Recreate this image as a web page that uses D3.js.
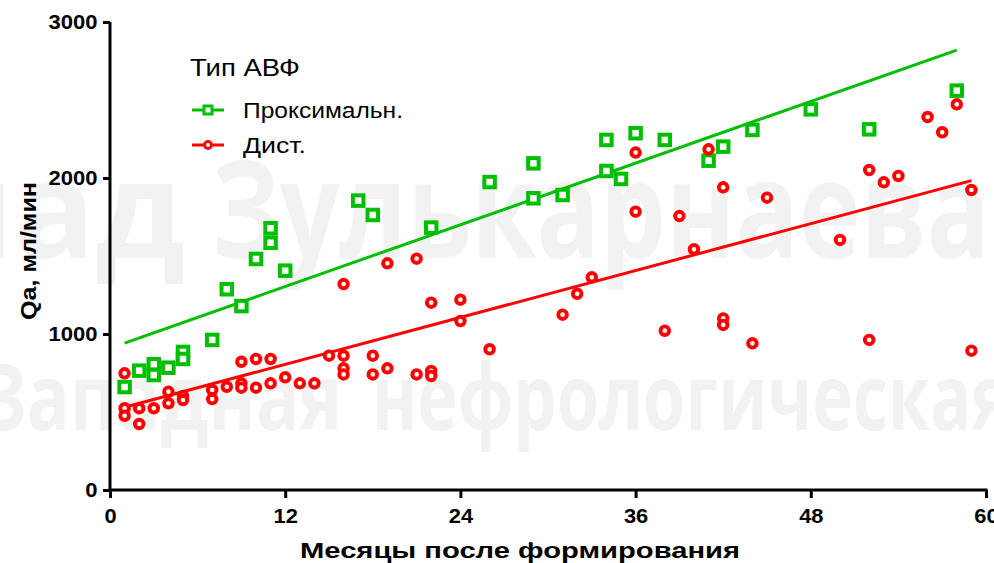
<!DOCTYPE html>
<html><head><meta charset="utf-8">
<script src="https://cdn.jsdelivr.net/npm/d3@7/dist/d3.min.js"></script>
<style>body{margin:0;background:#fff}svg{display:block}</style>
</head><body>
<svg id="c" width="994" height="563"></svg>
<script>
// ---- data ----
const xTicks = [0, 12, 24, 36, 48, 60];
const yTicks = [0, 1000, 2000, 3000];
const proxMonths = [1,2,3,3,4,5,5,7,8,9,10,11,11,12,17,18,22,26,29,29,31,34,34,35,36,38,41,42,44,48,52,58];
const proxQa     = [660,765,806,737,784,885,840,962,1287,1179,1481,1678,1585,1406,1855,1763,1682,1974,2094,1870,1891,2244,2045,1994,2287,2244,2111,2201,2308,2440,2312,2560];
const distMonths = [1,1,1,2,2,3,4,4,5,5,7,7,8,9,9,9,10,10,11,11,12,13,14,15,16,16,16,16,18,18,19,19,21,21,22,22,22,24,24,26,31,32,33,36,36,38,39,40,41,42,42,42,44,45,50,52,52,53,54,56,57,58,59,59];
const distQa     = [748,524,476,524,423,524,630,556,603,577,641,583,662,822,684,656,840,656,840,684,722,684,684,861,1320,861,780,741,861,741,1453,780,1483,741,1201,763,731,1220,1083,902,1124,1258,1363,2163,1784,1021,1756,1543,2184,1940,1100,1058,940,1874,1603,2051,962,1972,2013,2391,2293,2472,1923,893];
const proxFit = [[1, 942], [58, 2820]];
const distFit = [[1, 530], [59, 1983]];
const seriesNames = ["Проксимальн.", "Дист."];
const legendTitle = "Тип АВФ";
const xTitle = "Месяцы после формирования";
const yTitle = "Qa, мл/мин";

const green = "#00bf00", red = "#ff0000";
const svg = d3.select("#c");

// watermark
const wm = svg.append("g").attr("fill", "#f2f2f2").attr("font-family", "'Open Sans', 'DejaVu Sans', sans-serif").attr("font-weight", "bold");
wm.append("text").attr("x", 185).attr("y", 258).attr("text-anchor", "end").attr("font-size", 135).text("Влад");
wm.append("text").attr("x", 212).attr("y", 258).attr("font-size", 135).attr("textLength", 778).attr("lengthAdjust", "spacingAndGlyphs").text("Зулькарнаева");
wm.append("text").attr("x", -20).attr("y", 430).attr("font-size", 92).attr("textLength", 362).attr("lengthAdjust", "spacingAndGlyphs").text("Западная");
wm.append("text").attr("x", 372).attr("y", 430).attr("font-size", 92).attr("textLength", 640).attr("lengthAdjust", "spacingAndGlyphs").text("нефрологическая");

const x = d3.scaleLinear().domain([0, 60]).range([110, 986]);
const y = d3.scaleLinear().domain([0, 3000]).range([490, 22]);

// axes
const fontAxis = "'Liberation Sans', Arial, sans-serif";
const gx = svg.append("g").attr("transform", "translate(0,490)")
  .call(d3.axisBottom(x).tickValues(xTicks).tickFormat(d3.format("d")).tickSize(8).tickPadding(11).tickSizeOuter(0));
const gy = svg.append("g").attr("transform", "translate(110,0)")
  .call(d3.axisLeft(y).tickValues(yTicks).tickFormat(d3.format("d")).tickSize(7).tickPadding(3).tickSizeOuter(0));
[gx, gy].forEach(g => {
  g.select(".domain").attr("stroke", "#000").attr("stroke-width", 3);
  g.selectAll(".tick line").attr("stroke", "#000").attr("stroke-width", 3);
  g.selectAll(".tick text").attr("fill", "#000").attr("font-family", fontAxis)
    .attr("font-weight", "bold").attr("font-size", 19.5);
});
gx.select(".domain").attr("d", `M${x(0)-1.5},0H${x(60)+1.5}`);
gy.select(".domain").attr("d", `M0,${y(3000)}V${y(0)+1.5}`);
gx.selectAll(".tick text").attr("transform", "scale(1.12,1)");
gy.selectAll(".tick text").attr("transform", "scale(1.13,1)").attr("x", -11);

// axis titles
svg.append("text").attr("x", 300).attr("y", 558).attr("font-family", fontAxis).attr("font-weight", "bold")
  .attr("font-size", 22).attr("textLength", 440).attr("lengthAdjust", "spacingAndGlyphs").text(xTitle);
svg.append("text").attr("transform", "translate(36,320) rotate(-90)").attr("font-family", fontAxis)
  .attr("font-weight", "bold").attr("font-size", 22).attr("textLength", 138).attr("lengthAdjust", "spacingAndGlyphs").text(yTitle);

// fit lines
const line = d3.line().x(d => x(d[0])).y(d => y(d[1]));
svg.append("path").datum(proxFit).attr("d", line).attr("stroke", green).attr("stroke-width", 3).attr("fill", "none");
svg.append("path").datum(distFit).attr("d", line).attr("stroke", red).attr("stroke-width", 3).attr("fill", "none");

// points
const prox = proxMonths.map((m, i) => [m, proxQa[i]]);
const dist = distMonths.map((m, i) => [m, distQa[i]]);
const sq = 10.5;
svg.append("g").selectAll("rect").data(prox).join("rect")
  .attr("x", d => x(d[0]) - sq / 2).attr("y", d => y(d[1]) - sq / 2)
  .attr("width", sq).attr("height", sq).attr("fill", "#fff").attr("stroke", green).attr("stroke-width", 4);
svg.append("g").selectAll("circle").data(dist).join("circle")
  .attr("cx", d => x(d[0])).attr("cy", d => y(d[1])).attr("r", 4.3)
  .attr("fill", "#fff").attr("stroke", red).attr("stroke-width", 3.9);

// legend
const lg = svg.append("g").attr("font-family", fontAxis).attr("fill", "#000");
lg.append("text").attr("x", 190).attr("y", 76).attr("font-size", 23).attr("textLength", 110).attr("lengthAdjust", "spacingAndGlyphs").text(legendTitle);
const items = [{name: seriesNames[0], c: green, t: "sq", y: 110, len: 160}, {name: seriesNames[1], c: red, t: "ci", y: 145, len: 63}];
items.forEach(it => {
  lg.append("line").attr("x1", 192).attr("x2", 224).attr("y1", it.y).attr("y2", it.y).attr("stroke", it.c).attr("stroke-width", 3);
  if (it.t === "sq") lg.append("rect").attr("x", 204).attr("y", it.y - 4).attr("width", 8).attr("height", 8).attr("fill", "#fff").attr("stroke", it.c).attr("stroke-width", 3);
  else lg.append("circle").attr("cx", 208).attr("cy", it.y).attr("r", 3.5).attr("fill", "#fff").attr("stroke", it.c).attr("stroke-width", 3);
  lg.append("text").attr("x", 243).attr("y", it.y + 8).attr("font-size", 22)
    .attr("textLength", it.len).attr("lengthAdjust", "spacingAndGlyphs").text(it.name);
});
</script>
</body></html>
